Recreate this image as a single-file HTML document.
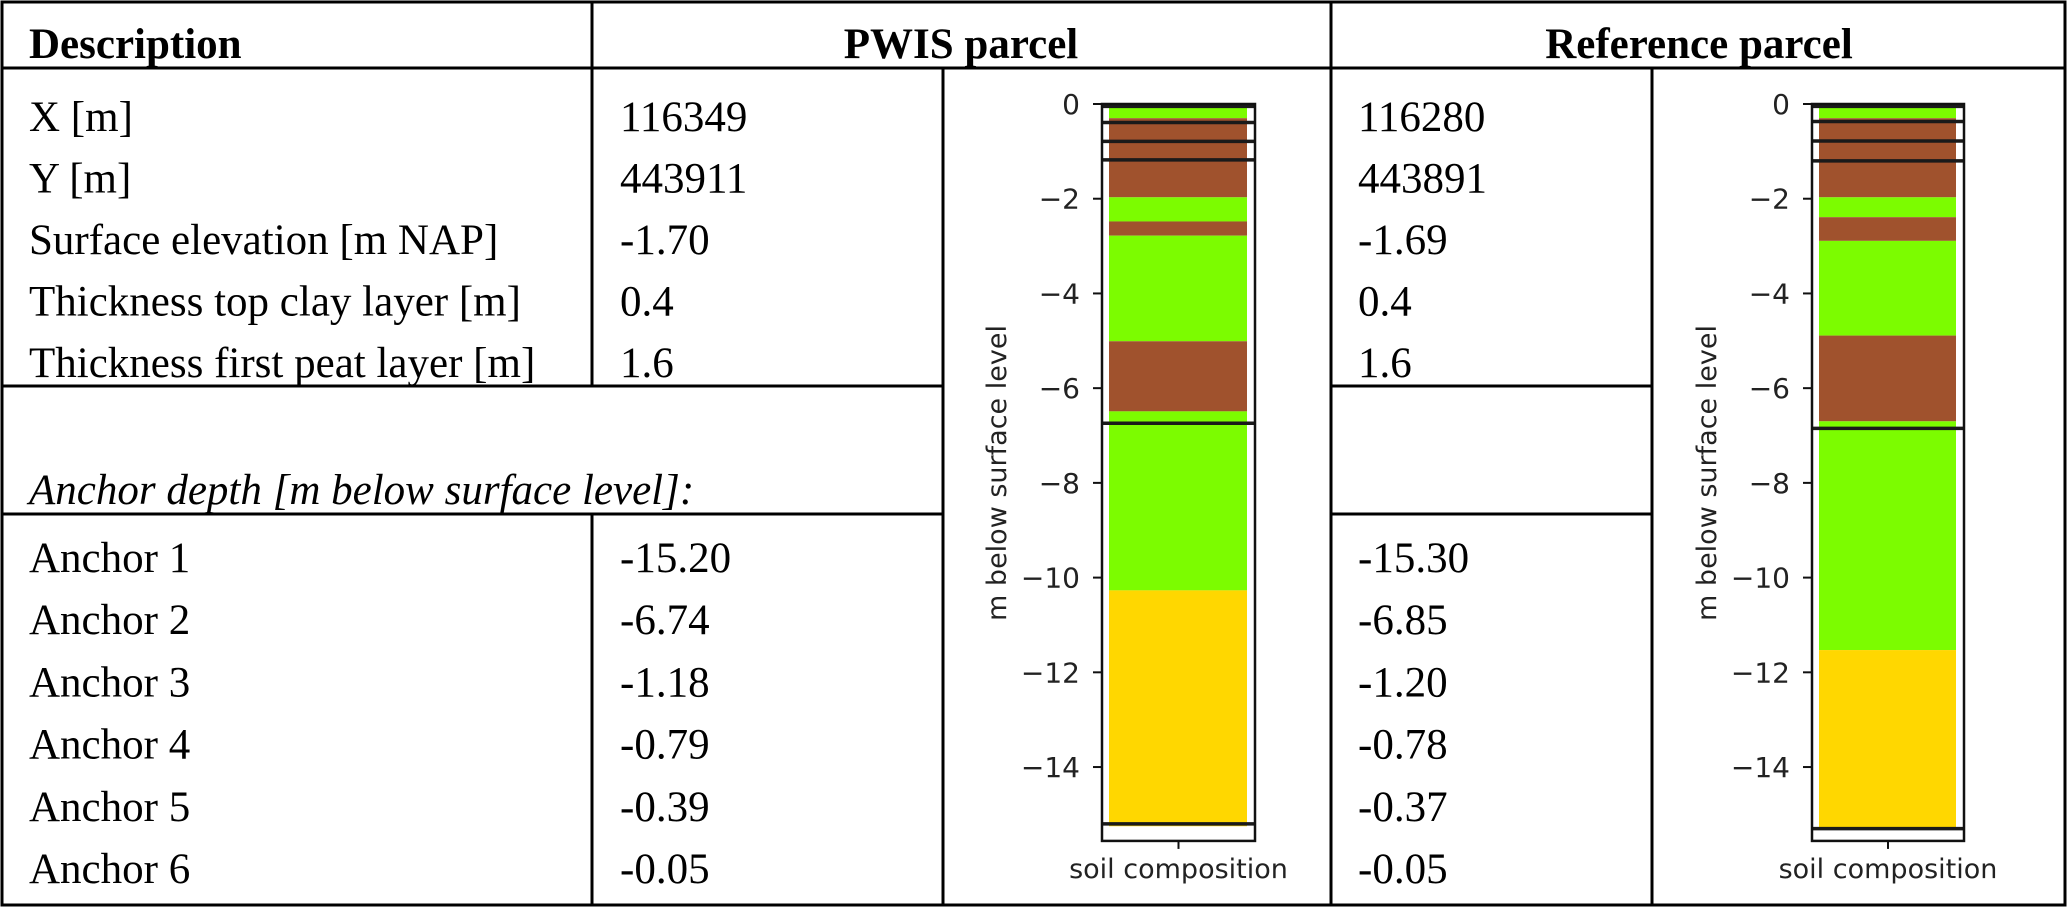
<!DOCTYPE html>
<html><head><meta charset="utf-8"><style>
html,body{margin:0;padding:0;background:#fff;}
svg{display:block;}
.t{font-family:"Liberation Serif",serif;font-size:43px;fill:#000;}
.b{font-weight:bold;}
.i{font-style:italic;}
.ax{font-family:"DejaVu Sans",sans-serif;font-size:28px;fill:#222;}
.axt{font-family:"DejaVu Sans",sans-serif;font-size:27px;fill:#222;}
</style></head><body>
<svg id="root" width="2067" height="907" viewBox="0 0 2067 907" xmlns="http://www.w3.org/2000/svg">
<g stroke="#000" stroke-width="3" fill="none">
  <rect x="2" y="2" width="2063" height="903"/>
  <line x1="2" y1="68" x2="2065" y2="68"/>
  <line x1="592" y1="2" x2="592" y2="386"/>
  <line x1="592" y1="514" x2="592" y2="905"/>
  <line x1="943" y1="68" x2="943" y2="905"/>
  <line x1="1331" y1="2" x2="1331" y2="905"/>
  <line x1="1652" y1="68" x2="1652" y2="905"/>
  <line x1="2" y1="386" x2="943" y2="386"/>
  <line x1="2" y1="514" x2="943" y2="514"/>
  <line x1="1331" y1="386" x2="1652" y2="386"/>
  <line x1="1331" y1="514" x2="1652" y2="514"/>
</g>
<text class="t b" x="29" y="58">Description</text>
<text class="t b" x="961" y="58" text-anchor="middle">PWIS parcel</text>
<text class="t b" x="1699" y="58" text-anchor="middle">Reference parcel</text>
<text class="t i" x="29" y="504">Anchor depth [m below surface level]:</text>
<g id="rows"></g>
<g id="chart1"></g>
<g id="chart2"></g>
</svg>
<script>
// Table data
const propLabels = ["X [m]","Y [m]","Surface elevation [m NAP]","Thickness top clay layer [m]","Thickness first peat layer [m]"];
const pwisProps = ["116349","443911","-1.70","0.4","1.6"];
const refProps = ["116280","443891","-1.69","0.4","1.6"];
const anchorLabels = ["Anchor 1","Anchor 2","Anchor 3","Anchor 4","Anchor 5","Anchor 6"];
const pwisAnchors = [-15.20,-6.74,-1.18,-0.79,-0.39,-0.05];
const refAnchors = [-15.30,-6.85,-1.20,-0.78,-0.37,-0.05];
// Soil layers (depth tops/bottoms in m below surface)
const layerTypes1 = ["sand","peat","sand","peat","sand","peat","sand","sandy"];
const layerTops1 = [0,0.30,1.97,2.48,2.78,5.01,6.49,10.27];
const layerBots1 = [0.30,1.97,2.48,2.78,5.01,6.49,10.27,15.25];
const layerTypes2 = ["sand","peat","sand","peat","sand","peat","sand","sandy"];
const layerTops2 = [0,0.30,1.97,2.39,2.89,4.89,6.70,11.53];
const layerBots2 = [0.30,1.97,2.39,2.89,4.89,6.70,11.53,15.30];
const yTicks = [0,-2,-4,-6,-8,-10,-12,-14];
const colors = {sand:"#7CFC00",peat:"#A0522D",sandy:"#FFD700"};

const NS="http://www.w3.org/2000/svg";
function mk(tag,attrs,parent){const e=document.createElementNS(NS,tag);for(const k in attrs)e.setAttribute(k,attrs[k]);parent.appendChild(e);return e;}
const rows=document.getElementById('rows');
function txt(x,y,s,name){const e=mk('text',{x:x,y:y,class:'t'},rows);e.textContent=s;


return e;}
const fmt=v=>v.toFixed(2);
propLabels.forEach((l,i)=>{const y=131+i*61.5;
  txt(29,y,l,'property-label');
  txt(620,y,pwisProps[i],'pwis-property-value');
  txt(1358,y,refProps[i],'reference-property-value');});
anchorLabels.forEach((l,i)=>{const y=572+i*62.2;
  txt(29,y,l,'anchor-label');
  txt(620,y,fmt(pwisAnchors[i]),'pwis-anchor-value');
  txt(1358,y,fmt(refAnchors[i]),'reference-anchor-value');});

function drawChart(g,axL,axR,tops,bots,types,anchors){
  const y0=104, pxPerM=47.36, yMax=15.56;
  const Y=d=>y0+d*pxPerM;
  const barL=axL+7, barR=axR-8;
  for(let i=0;i<tops.length;i++){
    const r=mk('rect',{x:barL,y:Y(tops[i]),width:barR-barL,height:Y(bots[i])-Y(tops[i]),fill:colors[types[i]]},g);
    
    
  }
  anchors.forEach(a=>{const l=mk('line',{x1:axL,x2:axR,y1:Y(-a),y2:Y(-a),stroke:'#1a1a1a','stroke-width':3.5},g);
    
    });
  const fr=mk('rect',{x:axL,y:y0,width:axR-axL,height:Y(yMax)-y0,fill:'none',stroke:'#111','stroke-width':2.5},g);
  
  
  yTicks.forEach(t=>{const yy=Y(-t);
    mk('line',{x1:axL-9,x2:axL,y1:yy,y2:yy,stroke:'#111','stroke-width':2},g);
    const tx=mk('text',{x:axL-22,y:yy+10,class:'ax','text-anchor':'end'},g);
    tx.textContent=(t<0?'\u2212':'')+Math.abs(t);
    
    });
  const cx=(axL+axR)/2;
  mk('line',{x1:cx,x2:cx,y1:Y(yMax),y2:Y(yMax)+8,stroke:'#111','stroke-width':2},g);
  const xl=mk('text',{x:cx,y:878,class:'axt','text-anchor':'middle'},g);
  xl.textContent='soil composition';
  
  
  const yl=mk('text',{x:0,y:0,class:'axt','text-anchor':'middle',transform:'translate('+(axL-96)+',473) rotate(-90)'},g);
  yl.textContent='m below surface level';
  
  
}
drawChart(document.getElementById('chart1'),1102,1255,layerTops1,layerBots1,layerTypes1,pwisAnchors);
drawChart(document.getElementById('chart2'),1812,1964,layerTops2,layerBots2,layerTypes2,refAnchors);
</script>
</body></html>
